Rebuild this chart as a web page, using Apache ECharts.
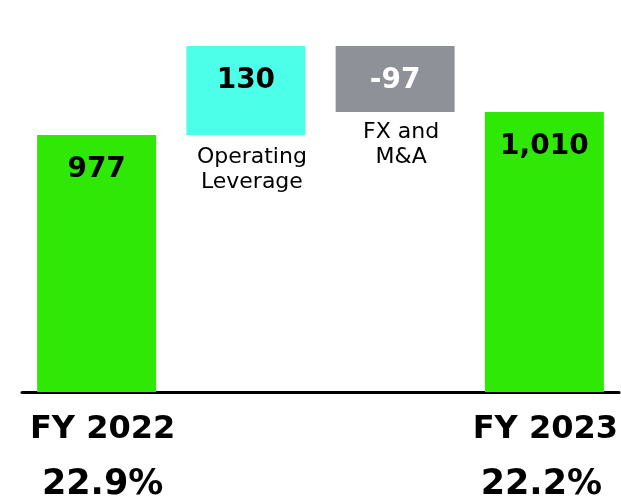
<!DOCTYPE html>
<html>
<head>
<meta charset="utf-8">
<script src="https://cdn.jsdelivr.net/npm/echarts@6/dist/echarts.min.js"></script>
<style>
  html, body { margin: 0; padding: 0; background: #fff; }
  #chart { width: 621px; height: 496px; }
</style>
</head>
<body>
<div id="chart"></div>
<script>
  // values printed on the bars
  var categories = ['FY 2022', 'Operating Leverage', 'FX and M&A', 'FY 2023']
  var valueLabels = ['977', '130', '-97', '1,010']
  var marginLabels = ['22.9%', '', '', '22.2%']
  var stepNames = ['', 'Operating\nLeverage', 'FX and\nM&A', '']
  // bar extents as drawn in the picture (the steps are not to scale)
  var barLow = [0, 977, 1064, 0]
  var barHigh = [977, 1315, 1315, 1064]
  var barColors = ['#2FE805', '#4CFFE8', '#8E9298', '#2FE805']
  var labelColors = ['#000', '#000', '#fff', '#000']

  var font = 'DejaVu Sans, Verdana, sans-serif'

  var baseData = barLow.map(function (v, i) {
    return {
      value: v,
      label: {
        show: stepNames[i] !== '',
        formatter: stepNames[i],
        distance: i === 2 ? 8 : 10
      }
    }
  })

  var stepData = barHigh.map(function (v, i) {
    return {
      value: v - barLow[i],
      itemStyle: { color: barColors[i] },
      label: { color: labelColors[i], formatter: valueLabels[i] }
    }
  })

  var chart = echarts.init(document.getElementById('chart'))
  chart.setOption({
    animation: false,
    grid: { left: 22, right: 2, top: 0, bottom: 104, outerBoundsMode: 'none', containLabel: false },
    xAxis: {
      type: 'category',
      data: categories,
      axisTick: { show: false },
      axisLine: { lineStyle: { color: '#000', width: 3 } },
      axisLabel: {
        interval: 0,
        margin: 18,
        formatter: function (value, index) {
          if (!marginLabels[index]) return ''
          var s = index === 0 ? 'p' : 'q'
          return '{' + s + 'a|' + value + '}\n{' + s + 'b|' + marginLabels[index] + '}'
        },
        rich: {
          pa: { fontFamily: font, fontWeight: 'bold', fontSize: 32, color: '#000', lineHeight: 40, padding: [0, 0, 0, 12] },
          pb: { fontFamily: font, fontWeight: 'bold', fontSize: 35, color: '#000', lineHeight: 70, padding: [0, 0, 0, 12] },
          qa: { fontFamily: font, fontWeight: 'bold', fontSize: 32, color: '#000', lineHeight: 40, padding: [0, 0, 0, 2] },
          qb: { fontFamily: font, fontWeight: 'bold', fontSize: 35, color: '#000', lineHeight: 70, padding: [0, 6, 0, 0] }
        }
      }
    },
    yAxis: {
      type: 'value',
      min: 0,
      max: 1490,
      show: false,
      splitLine: { show: false }
    },
    series: [{
      type: 'bar',
      stack: 'w',
      barWidth: 119,
      data: baseData,
      itemStyle: { color: 'transparent' },
      label: {
        position: 'insideTop',
        offset: [6, 0],
        fontFamily: font,
        fontSize: 22,
        lineHeight: 25,
        color: '#000'
      },
      silent: true
    }, {
      type: 'bar',
      stack: 'w',
      barWidth: 119,
      data: stepData,
      label: {
        show: true,
        position: 'insideTop',
        distance: 21,
        fontFamily: font,
        fontWeight: 'bold',
        fontSize: 28
      }
    }]
  })
</script>
</body>
</html>
